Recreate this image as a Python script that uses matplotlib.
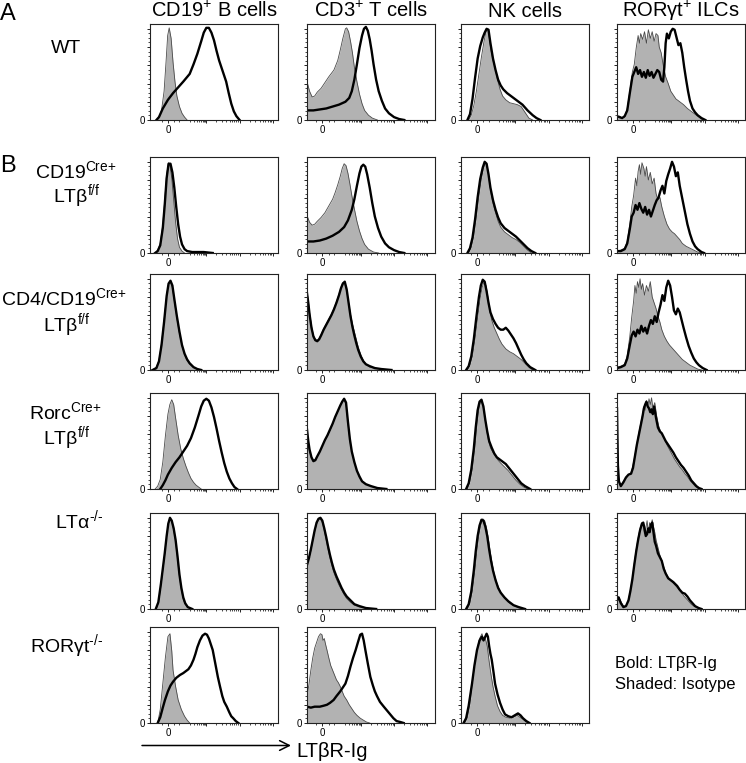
import numpy as np
import matplotlib
matplotlib.use('Agg')
import matplotlib.pyplot as plt

plt.rcParams['font.family'] = ['Liberation Sans', 'DejaVu Sans']
plt.rcParams['mathtext.fontset'] = 'custom'
plt.rcParams['mathtext.rm'] = 'Liberation Sans'
plt.rcParams['mathtext.it'] = 'Liberation Sans:italic'
plt.rcParams['mathtext.default'] = 'regular'

# Column / row labels
COLUMNS = ['CD19$^{+}$ B cells', 'CD3$^{+}$ T cells', 'NK cells', 'ROR\u03b3t$^{+}$ ILCs']
ROW_LABELS = [
    ['WT'],
    [r'CD19$^{\text{Cre+}}$', r'LT$\beta^{\text{f/f}}$'],
    [r'CD4/CD19$^{\text{Cre+}}$', r'LT$\beta^{\text{f/f}}$'],
    [r'Rorc$^{\text{Cre+}}$', r'LT$\beta^{\text{f/f}}$'],
    [r'LT$\alpha^{\text{-/-}}$'],
    [r'ROR$\gamma$t$^{\text{-/-}}$'],
]

# Histograms: (channel position in % of axis width, % of max)
# ---- WT
WT_B_ISO = [(5,0),(7,3),(9,10),(11,30),(12.5,60),(13.8,88),(15,96),(16.5,85),(18,60),(19.5,40),(21,25),(23,14),(25,7),(27,3),(29,0)]
WT_B_LTBR = [(5,0),(7,3),(10,12),(14,21),(18,28),(22,34),(26,40),(31,48),(34,58),(37,69),(40,82),(42,91),(44,96),(46,96),(48,91),(50,83),(52,72),(54,62),(57,50),(59.5,40),(61.5,28),(63.5,17),(65.5,9),(67.5,4),(70,0)]
WT_T_ISO = [(0,40),(2,30),(4,24),(6,25),(8,29),(11,33),(13.5,38),(17,45),(21,52),(24,62),(26,73),(28,85),(30,95),(31,96),(32.5,92),(34,82),(35.5,70),(37,55),(39,40),(41,27),(43,17),(45,10),(48,5),(51,2),(55,0)]
WT_T_LTBR = [(0,10),(5,10),(10,11),(15,12),(20,14),(25,16),(30,19),(33,23),(35,30),(37,42),(39,58),(41,75),(43,88),(44.5,95),(46,97),(47.5,93),(49,84),(50.5,72),(52,58),(54,42),(56,30),(58.5,20),(61,12),(64,7),(68,3),(72,1),(76,0)]
WT_NK_ISO = [(6,0),(8,5),(10,15),(12,30),(14,48),(16,66),(18,82),(19.5,92),(21,95),(22,86),(23.5,72),(25,62),(26.5,55),(28.5,42),(30.5,32),(32.5,25),(35,21),(38,18),(41,17),(44,16),(47,14),(49,10),(51,6),(53,2),(56,0)]
WT_NK_LTBR = [(5,0),(7,6),(9,22),(11,44),(13,64),(15,77),(17,86),(18.5,91),(20,95),(21.5,94),(23,80),(25,64),(27,52),(29,42),(31,36),(33,32),(36,28),(40,24),(44,20),(48,16),(52,10),(56,5),(59,2),(62,0)]
WT_ILC_ISO = [(0,3),(2,4),(4,2),(6,3),(8,12),(10,30),(12,50),(13.5,58),(15,75),(16.5,88),(17.5,80),(18.5,90),(20,84),(21.5,92),(23,80),(24.5,94),(26,85),(27.5,92),(29,82),(30.5,90),(32,88),(33,76),(34.5,70),(36,58),(38,45),(40,38),(42,30),(44,26),(46,22),(48,20),(50,18),(52,16),(55,12),(58,9),(61,6),(64,3),(67,0)]
WT_ILC_LTBR = [(0,4),(2,3),(4,2),(6,4),(8,10),(10,28),(12,45),(13.5,50),(15,55),(16.5,48),(18,52),(19.5,45),(21,50),(22.5,44),(24,52),(25.5,46),(27,50),(28.5,44),(30,48),(31.5,52),(33,50),(34.5,42),(36,40),(37,55),(38,80),(39,90),(40.5,85),(42,92),(43.5,95),(45,94),(46.5,86),(48,78),(49.5,80),(51,70),(52.5,55),(54,42),(55.5,30),(57,20),(59,12),(61,8),(63,5),(66,2),(69,0)]

# ---- CD19Cre+ LTbf/f
CD19CRE_B_ISO = [(4,0),(6,3),(8,10),(10,30),(11.5,55),(13,82),(14.5,94),(15.5,92),(17,78),(18.5,55),(20,32),(21.5,15),(23,6),(25,2),(27,0)]
CD19CRE_B_LTBR = [(4,0),(6,2),(8,8),(10,26),(11.5,50),(13,78),(14.5,93),(16,93),(17.5,84),(19,68),(20.5,48),(22,30),(23.5,17),(25,9),(27,4),(29,2),(33,1),(42,1),(49,0)]
CD19CRE_T_ISO = [(0,39),(2,32),(4,29),(6,30),(8,33),(11,37),(14,42),(17,49),(20,56),(22,63),(24,71),(26,80),(27.5,88),(29,93),(30.5,91),(32,83),(33.5,72),(35,60),(37,46),(39,33),(41,23),(43,15),(45,9),(48,4),(52,1),(56,0)]
CD19CRE_T_LTBR = [(0,12),(5,12),(10,13),(15,15),(20,18),(25,22),(29,27),(32,34),(35,45),(37,56),(39,70),(41,83),(42.5,90),(44,92),(45.5,90),(47,82),(49,68),(51,52),(53,38),(55.5,26),(58,17),(61,10),(64,6),(68,3),(72,1),(76,0)]
CD19CRE_NK_ISO = [(6,0),(8,6),(10,18),(12,38),(14,60),(16,78),(17.5,88),(19,94),(20.5,90),(22,76),(23.5,62),(25,52),(27,42),(29,33),(31,27),(34,22),(37,19),(40,16),(43,14),(46,11),(49,7),(52,3),(55,0)]
CD19CRE_NK_LTBR = [(5,0),(7,5),(9,16),(11,35),(13,58),(15,77),(17,89),(18.5,95),(20,93),(21.5,82),(23,68),(25,55),(27,45),(29,37),(31,31),(34,26),(37,23),(40,20),(43,17),(46,13),(49,9),(52,5),(55,2),(58,0)]
CD19CRE_ILC_ISO = [(0,2),(3,3),(6,5),(8,12),(10,30),(11.5,48),(13,60),(14.5,78),(15.5,70),(16.5,85),(17.5,92),(18.5,82),(19.5,94),(21,88),(22,80),(23,90),(24.5,76),(26,84),(27.5,72),(29,78),(30.5,62),(32,55),(33.5,58),(35,48),(37,38),(39,30),(41,25),(43,22),(45,20),(47,17),(49,14),(51,10),(54,7),(57,5),(60,3),(63,1),(66,0)]
CD19CRE_ILC_LTBR = [(0,2),(3,2),(6,4),(8,10),(10,25),(11.5,38),(13,42),(14.5,50),(16,45),(17.5,52),(19,46),(20.5,42),(22,48),(23.5,40),(25,45),(26.5,38),(28,44),(29.5,50),(31,55),(32.5,58),(34,65),(35.5,70),(37,62),(38.5,75),(40,82),(41.5,88),(43,95),(44.5,90),(46,80),(47.5,84),(49,70),(50.5,60),(52,50),(53.5,40),(55,30),(57,20),(59,12),(61,7),(63,4),(66,1),(68,0)]

# ---- CD4/CD19Cre+ LTbf/f
CD4CRE_B_ISO = [(2,0),(5,3),(7,10),(9,28),(11,52),(13,78),(14.5,90),(16,92),(17.5,86),(19,72),(21,54),(23,38),(25,25),(27,16),(29,10),(31,6),(34,3),(37,1),(40,0)]
CD4CRE_B_LTBR = [(2,0),(5,2),(7,9),(9,26),(11,50),(13,77),(14.5,90),(16,93),(17.5,88),(19,74),(21,56),(23,40),(25,26),(27,17),(29,11),(31,7),(34,3),(37,1),(40,0)]
CD4CRE_T_ISO = [(0,82),(1,72),(2,60),(3.5,46),(5,36),(6.5,32),(8,31),(9.5,33),(11,37),(13,43),(15,48),(17,53),(19,58),(21,64),(23,71),(25,79),(26.5,86),(28,91),(29.5,90),(31,82),(32.5,70),(34,58),(35.5,48),(37,40),(38.5,32),(40,24),(42,16),(44,10),(46,6),(49,3),(53,2),(58,1),(64,0)]
CD4CRE_T_LTBR = [(0,80),(1,70),(2,58),(3.5,44),(5,35),(6.5,31),(8,30),(9.5,32),(11,36),(13,42),(15,47),(17,52),(19,57),(21,63),(23,70),(25,78),(26.5,85),(28,90),(29.5,92),(31,84),(32.5,70),(34,56),(35.5,45),(37,36),(38.5,28),(40,21),(42,14),(44,9),(46,6),(49,4),(53,2),(58,1),(66,0)]
CD4CRE_NK_ISO = [(5,0),(7,5),(9,15),(11,33),(13,55),(15,75),(16.5,86),(18,92),(19.5,88),(21,76),(22.5,62),(24,52),(26,44),(28,38),(30,32),(32,27),(35,22),(38,19),(41,17),(44,14),(47,11),(50,7),(53,3),(56,0)]
CD4CRE_NK_LTBR = [(4,0),(6,4),(8,14),(10,32),(12,55),(14,76),(15.5,88),(17,94),(18.5,92),(20,82),(21.5,70),(23,60),(25,53),(27,48),(29,44),(31,42),(33,42),(35,44),(37,41),(39,37),(41,33),(43,28),(45,22),(47,16),(49,11),(51,7),(54,3),(58,0)]
CD4CRE_ILC_ISO = [(0,3),(3,4),(6,6),(8,15),(10,35),(11.5,55),(13,72),(14,88),(15,80),(16,92),(17,86),(18,95),(19,84),(20,90),(21.5,78),(23,88),(24.5,82),(26,92),(27.5,76),(29,70),(30.5,64),(32,56),(33.5,50),(35,42),(37,35),(39,30),(41,26),(43,23),(45,20),(47,17),(49,14),(51,11),(54,8),(57,5),(60,3),(63,1),(66,0)]
CD4CRE_ILC_LTBR = [(0,2),(3,3),(6,5),(8,12),(10,26),(11.5,36),(13,40),(14.5,35),(16,42),(17.5,38),(19,46),(20.5,40),(22,44),(23.5,38),(25,46),(26.5,52),(28,48),(29.5,56),(31,50),(32.5,60),(34,68),(35.5,78),(37,72),(38.5,86),(40,93),(41.5,88),(43,76),(44.5,62),(46,58),(47.5,64),(49,60),(50.5,52),(52,44),(54,34),(56,25),(58,18),(60,12),(62,8),(64,5),(67,2),(70,0)]

# ---- RorcCre+ LTbf/f
RORCCRE_B_ISO = [(4,0),(6,3),(8,10),(10,28),(12,55),(14,78),(15.5,88),(17,93),(18.5,88),(20,74),(22,56),(24,42),(26,32),(28,24),(30,17),(32,11),(34,7),(36,4),(38,2),(40,0)]
RORCCRE_B_LTBR = [(8,0),(10,4),(12,9),(14,15),(17,22),(20,28),(23,33),(26,39),(29,45),(32,53),(35,64),(38,77),(40,86),(42,92),(44,94),(46,92),(48,85),(50,75),(52,63),(54,50),(56,38),(58,27),(60,18),(62,11),(64,6),(66,2),(68,0)]
RORCCRE_T_ISO = [(0,60),(1,48),(2,40),(3.5,33),(5,30),(6.5,31),(8,34),(10,39),(12,45),(14,50),(16,55),(18,61),(20,67),(22,74),(24,80),(26,87),(27.5,91),(29,93),(30.5,88),(32,68),(33.5,50),(35,38),(37,28),(39,19),(41,12),(43,8),(46,5),(50,3),(55,1),(61,0)]
RORCCRE_T_LTBR = [(0,62),(1,50),(2,41),(3.5,33),(5,29),(6.5,30),(8,34),(10,39),(12,45),(14,51),(16,56),(18,62),(20,68),(22,75),(24,81),(26,87),(27.5,91),(29,94),(30.5,90),(32,70),(33.5,52),(35,39),(37,28),(39,19),(41,13),(43,8),(46,5),(50,3),(55,1),(62,0)]
RORCCRE_NK_ISO = [(5,0),(7,8),(9,22),(11,45),(12.5,68),(14,84),(15.5,92),(17,88),(18.5,76),(20,62),(21.5,50),(23,43),(25,38),(27,34),(29,30),(31,27),(34,23),(37,19),(40,14),(43,9),(46,5),(49,2),(52,0)]
RORCCRE_NK_LTBR = [(4,0),(6,6),(8,20),(10,42),(11.5,64),(13,82),(14.5,91),(16,93),(17.5,86),(19,72),(20.5,60),(22,50),(24,43),(26,37),(28,33),(30,31),(32,29),(35,26),(38,21),(41,16),(44,11),(47,6),(50,3),(54,0)]
RORCCRE_ILC_ISO = [(0,70),(0.7,20),(1.5,8),(3,4),(5,8),(7,11),(9,14),(11,17),(12.5,25),(14,35),(15.5,47),(17,58),(18.5,68),(20,78),(21,86),(22,82),(23,92),(24,85),(25,94),(26,88),(27,95),(28,84),(29.5,90),(31,76),(32.5,66),(34,60),(35.5,56),(37,52),(39,46),(41,41),(43,36),(45,31),(47,27),(49,23),(51,20),(53,16),(55,13),(57,9),(59,6),(61,3),(63,1),(65,0)]
RORCCRE_ILC_LTBR = [(0,84),(0.7,25),(1.5,8),(3,3),(5,7),(7,12),(9,15),(11,16),(12.5,22),(14,34),(15.5,46),(17,56),(18.5,66),(20,76),(21,84),(22,88),(23,91),(24,86),(25,84),(26,80),(27,83),(28,78),(29,86),(30.5,74),(32,64),(33.5,60),(35,58),(36.5,54),(38,50),(40,46),(42,42),(44,38),(46,33),(48,29),(50,25),(52,22),(54,18),(56,14),(58,9),(60,6),(62,3),(64,1),(66,0)]

# ---- LTa-/-
LTA_B_ISO = [(5,0),(7,8),(9,28),(10.5,44),(11.7,58),(13,75),(14.3,88),(15.6,94),(17,91),(18.5,82),(20,70),(21.5,52),(23,34),(24.5,20),(26,10),(27.5,5),(29.5,2),(32.5,0)]
LTA_B_LTBR = [(4.5,0),(6.5,7),(8.5,26),(10,42),(11.5,58),(13,76),(14.3,89),(15.6,95),(17,92),(18.5,84),(20,72),(21.5,55),(23,36),(24.5,22),(26,12),(27.5,6),(29.5,2),(33,0)]
LTA_T_ISO = [(0,45),(1.5,52),(3,60),(4.5,70),(6,80),(7.5,88),(9,93),(10.5,94),(12,90),(13.5,82),(15,72),(16.5,62),(18,53),(19.5,45),(21,38),(23,31),(25,25),(27,20),(29,15),(31,11),(34,7),(37,4),(41,2),(46,1),(52,0)]
LTA_T_LTBR = [(0,46),(1.5,53),(3,62),(4.5,72),(6,82),(7.5,90),(9,94),(10.5,95),(12,92),(13.5,84),(15,75),(16.5,65),(18,56),(19.5,48),(21,41),(23,34),(25,28),(27,22),(29,17),(31,13),(34,9),(37,5),(41,3),(46,1),(54,0)]
LTA_NK_ISO = [(5,0),(7,6),(9,20),(11,42),(12.5,62),(14,78),(15.5,88),(17,94),(18.5,92),(20,84),(21.5,72),(23,58),(24.5,46),(26,36),(28,27),(30,20),(32,15),(35,10),(38,6),(42,3),(46,1),(50,0)]
LTA_NK_LTBR = [(4,0),(6,5),(8,18),(10,40),(11.5,60),(13,76),(14.5,87),(16,93),(17.5,92),(19,86),(20.5,76),(22,62),(23.5,50),(25,40),(27,30),(29,22),(31,17),(34,12),(37,8),(41,4),(45,2),(50,0)]
LTA_ILC_ISO = [(0,8),(1.3,13),(3,8),(5,3),(7,3),(9,10),(10.5,20),(12,32),(13.5,48),(15,62),(16.5,74),(18,84),(19.5,90),(20.5,86),(21.5,78),(22.5,84),(23.5,92),(24.5,80),(25.5,90),(26.5,86),(27.5,93),(28.5,86),(29.5,80),(30.5,72),(32,64),(33.5,56),(35,50),(36.5,44),(38,38),(40,33),(42,30),(44,27),(46,24),(48,21),(50,18),(52,14),(54,11),(56,8),(58,5),(60,3),(62,2),(64,1),(66,0)]
LTA_ILC_LTBR = [(0,9),(1.3,12),(3,6),(5,2),(7,3),(9,9),(10.5,19),(12,31),(13.5,46),(15,60),(16.5,72),(18,82),(19.5,89),(20.5,90),(21.5,84),(22.5,76),(23.5,78),(24.5,84),(25.5,80),(26.5,88),(27.5,90),(28.5,80),(29.5,70),(30.5,66),(32,58),(33.5,54),(35,50),(36.5,42),(38,37),(40,32),(42,30),(44,28),(45.5,26),(47,24),(49,20),(51,17),(53,16),(55,13),(57,9),(59,6),(61,3),(63.8,1),(66,0)]

# ---- RORgt-/-
RORGT_B_ISO = [(6,0),(8,14),(10,41),(12,68),(14,90),(15.6,93),(17,75),(18,55),(20,38),(22,24),(24.5,14),(27,7),(29,3),(31,0)]
RORGT_B_LTBR = [(6,0),(8,6),(10,16),(11.7,24),(14,33),(16,39),(18,43),(20.5,47),(23.4,50),(26,52),(28,54),(30,56),(32,60),(34,66),(35.5,72),(37,79),(39,86),(41,91),(43,93),(44.5,92),(46,88),(47.5,82),(49,76),(51,62),(53,48),(54.7,38),(56.5,28),(58,22),(60,17),(62,11),(63.5,7),(65,5),(67,2),(69,0)]
RORGT_T_ISO = [(0,28),(1.5,40),(3,55),(4.5,68),(6,78),(7.5,84),(9,90),(10.5,93),(11.7,92),(12.5,86),(13.5,88),(14.5,82),(15.6,76),(17,68),(18.5,60),(20,55),(21.5,50),(23,45),(24.5,42),(26,38),(27.5,33),(29,28),(31,24),(33,19),(35,15),(37,11),(39,8),(41.6,5),(44,3),(46.5,1),(49,0)]
RORGT_T_LTBR = [(0,17),(3,16),(6,17),(10,17),(13,18),(15.6,19),(18,21),(20.8,24),(23,28),(26,33),(28,37),(30,41),(32,49),(34,59),(36,68),(38,76),(40,85),(41.6,92),(43,93),(44.3,86),(45.6,76),(47.5,62),(49.5,48),(51.5,39),(53,33),(54.7,28),(57,22),(60,17),(62.5,13),(65,9),(67.5,5),(70,2),(73,1),(75.5,0)]
RORGT_NK_ISO = [(3,0),(5,6),(7,20),(8.6,38),(10.5,58),(12.5,76),(14.5,88),(16.4,93),(17.6,86),(19,88),(20.5,80),(22,64),(23.5,50),(25,38),(26.6,28),(28.5,18),(30.5,12),(32.5,8),(35,6),(38,5),(41,6),(44,8),(46,6),(48.4,4),(51,1),(53,0)]
RORGT_NK_LTBR = [(2,0),(4,5),(6,18),(8.6,41),(10.5,60),(12.5,76),(14.5,86),(16.4,90),(17.6,86),(19,90),(20,93),(21,90),(22,80),(23,72),(24,66),(25.5,52),(26.6,41),(28.5,30),(30.5,21),(32.5,14),(34.4,9),(37,7),(39.5,6),(42,8),(44.5,10),(46.5,8),(48.4,5),(51,2),(53.5,0)]

# grid of panels: (row, col) -> (isotype, LTbR-Ig)
PANELS = {
    (0, 0): (WT_B_ISO, WT_B_LTBR), (0, 1): (WT_T_ISO, WT_T_LTBR),
    (0, 2): (WT_NK_ISO, WT_NK_LTBR), (0, 3): (WT_ILC_ISO, WT_ILC_LTBR),
    (1, 0): (CD19CRE_B_ISO, CD19CRE_B_LTBR), (1, 1): (CD19CRE_T_ISO, CD19CRE_T_LTBR),
    (1, 2): (CD19CRE_NK_ISO, CD19CRE_NK_LTBR), (1, 3): (CD19CRE_ILC_ISO, CD19CRE_ILC_LTBR),
    (2, 0): (CD4CRE_B_ISO, CD4CRE_B_LTBR), (2, 1): (CD4CRE_T_ISO, CD4CRE_T_LTBR),
    (2, 2): (CD4CRE_NK_ISO, CD4CRE_NK_LTBR), (2, 3): (CD4CRE_ILC_ISO, CD4CRE_ILC_LTBR),
    (3, 0): (RORCCRE_B_ISO, RORCCRE_B_LTBR), (3, 1): (RORCCRE_T_ISO, RORCCRE_T_LTBR),
    (3, 2): (RORCCRE_NK_ISO, RORCCRE_NK_LTBR), (3, 3): (RORCCRE_ILC_ISO, RORCCRE_ILC_LTBR),
    (4, 0): (LTA_B_ISO, LTA_B_LTBR), (4, 1): (LTA_T_ISO, LTA_T_LTBR),
    (4, 2): (LTA_NK_ISO, LTA_NK_LTBR), (4, 3): (LTA_ILC_ISO, LTA_ILC_LTBR),
    (5, 0): (RORGT_B_ISO, RORGT_B_LTBR), (5, 1): (RORGT_T_ISO, RORGT_T_LTBR),
    (5, 2): (RORGT_NK_ISO, RORGT_NK_LTBR),
}

# layout in pixels
W, H = 746, 763
COL_LEFT = [150, 307, 461, 617]
ROW_TOP = [24, 157, 274, 393, 513, 627]
PW, PH = 128, 96
ZERO_X = [14, 12, 12.5, 12.5]


def panel_axes(fig, left, top):
    return fig.add_axes([left / W, 1 - (top + PH) / H, PW / W, PH / H])


def x_ticks(zero):
    # biexponential-ish axis: 0, then three decades with log minor ticks
    minor = [zero - 5, zero + 5, zero + 9]
    dec = [zero + 30, zero + 56, zero + 82]
    starts = [zero + 12] + dec[:-1]
    for a, b in zip(starts, dec):
        minor += list(a + (b - a) * np.log10(np.arange(2, 10)))
    return dec, [m for m in minor if 0 < m < 100]


fig = plt.figure(figsize=(W / 100, H / 100), dpi=100)

bg = fig.add_axes([0, 0, 1, 1])
bg.set_xlim(0, W)
bg.set_ylim(H, 0)
bg.axis('off')

for (r, c), (iso, ltbr) in PANELS.items():
    ax = panel_axes(fig, COL_LEFT[c], ROW_TOP[r])
    xs, ys = zip(*iso)
    ax.fill_between(xs, ys, 0, color='#b2b2b2', lw=0)
    ax.plot(xs, ys, color='#4a4a4a', lw=0.6)
    bx, by = zip(*ltbr)
    ax.plot(bx, by, color='black', lw=1.7, solid_joinstyle='round')
    ax.set_xlim(0, 100)
    ax.set_ylim(0, 100)

    dec, minor = x_ticks(ZERO_X[c])
    ax.set_xticks([ZERO_X[c]] + dec, labels=['0', '', '', ''])
    ax.set_xticks(minor, minor=True)
    ax.set_yticks([0, 19, 38, 57, 76, 95], labels=['0', '', '', '', '', ''])
    ax.set_yticks(np.arange(4.75, 95, 4.75), minor=True)
    ax.tick_params(which='major', direction='out', length=2.5, width=0.6,
                   labelsize=7, pad=1)
    ax.tick_params(which='minor', direction='out', length=1.2, width=0.5)
    for s in ax.spines.values():
        s.set_linewidth(0.8)
        s.set_color('#222222')

# texts
bg.text(8, 20, 'A', fontsize=17, ha='center', va='baseline')
bg.text(8, 172, 'B', fontsize=17, ha='center', va='baseline')

for c, name in enumerate(COLUMNS):
    bg.text(COL_LEFT[c] + PW / 2, 17, name, fontsize=14.5, ha='center', va='baseline')

ROW_POS = [
    [(66, 53)],
    [(76, 178), (77, 202)],
    [(63.5, 305), (66.5, 331)],
    [(65.5, 419), (66.5, 444)],
    [(79, 528)],
    [(66.5, 652)],
]
for lines, pos in zip(ROW_LABELS, ROW_POS):
    for txt, (x, y) in zip(lines, pos):
        bg.text(x, y, txt, fontsize=14, ha='center', va='baseline')

bg.text(615, 668, 'Bold: LT\u03b2R-Ig', fontsize=12, va='baseline')
bg.text(615, 689, 'Shaded: Isotype', fontsize=12, va='baseline')

bg.annotate('', xy=(291, 745.5), xytext=(142, 745.5),
            arrowprops=dict(arrowstyle='->,head_length=0.7,head_width=0.35',
                            lw=1.1, color='black', shrinkA=0, shrinkB=0))
bg.text(296, 757, 'LT\u03b2R-Ig', fontsize=14.5, ha='left', va='baseline')

fig.savefig('out.png', dpi=100)
